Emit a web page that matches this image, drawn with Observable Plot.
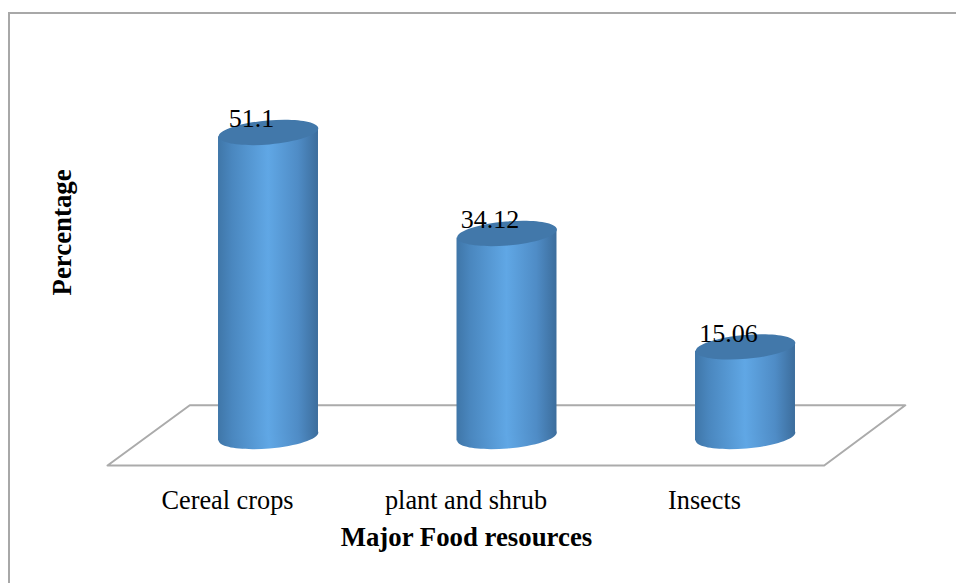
<!DOCTYPE html>
<html>
<head>
<meta charset="utf-8">
<script src="https://cdn.jsdelivr.net/npm/d3@7"></script>
<script src="https://cdn.jsdelivr.net/npm/@observablehq/plot@0.6"></script>
<style>
html,body{margin:0;padding:0;background:#fff;overflow:hidden}
#wrap{position:relative;width:956px;height:583px}
#frame{position:absolute;left:8px;top:12px;right:0;bottom:0;border-top:2px solid #a8a8a8;border-left:2px solid #a8a8a8;pointer-events:none}
svg{display:block}
</style>
</head>
<body>
<div id="wrap"><div id="frame"></div></div>
<script>
const categories = ["Cereal crops", "plant and shrub", "Insects"];
const percentages = [51.1, 34.12, 15.06];
const positions = [0, 1, 2];
const valueLabels = ["51.1", "34.12", "15.06"];
const floorX = [-0.675, 2.33, 2.67, -0.33, -0.675];
const floorY = [-4.87, -4.87, 5.25, 5.25, -4.87];
const xDomain = [-1.1237, 2.8847];
const yDomain = [-24.71, 73.28];
const halfWidth = 0.2096;
const tilt = 0.74;
const xTitle = "Major Food resources";
const yTitle = "Percentage";

const table = categories.map((c, i) => ({
  category: c, value: percentages[i], pos: positions[i], label: valueLabels[i]
}));
const floor = floorX.map((x, i) => ({x, y: floorY[i]}));
const body = table.flatMap(d => [
  {category: d.category, x: d.pos - halfWidth, y1: -tilt, y2: d.value - tilt},
  {category: d.category, x: d.pos + halfWidth, y1: tilt, y2: d.value + tilt}
]);

const ellipse = {
  draw(ctx, size) {
    const rx = Math.sqrt(size / Math.PI), ry = rx * 0.24, k = 0.5523;
    ctx.moveTo(-rx, 0);
    ctx.bezierCurveTo(-rx, -ry * k, -rx * k, -ry, 0, -ry);
    ctx.bezierCurveTo(rx * k, -ry, rx, -ry * k, rx, 0);
    ctx.bezierCurveTo(rx, ry * k, rx * k, ry, 0, ry);
    ctx.bezierCurveTo(-rx * k, ry, -rx, ry * k, -rx, 0);
    ctx.closePath();
  }
};

const gradient = () => {
  const s = d3.create("svg:defs");
  const g = s.append("linearGradient").attr("id", "cyl").attr("x1", 0).attr("x2", 1).attr("y1", 0).attr("y2", 0);
  [[0, "#3f76a8"], [0.14, "#4a87bf"], [0.5, "#60a7e5"], [0.8, "#4f8cc6"], [1, "#3c6d9c"]]
    .forEach(([o, c]) => g.append("stop").attr("offset", o).attr("stop-color", c));
  return s.node();
};

const serif = "'Liberation Serif','Times New Roman',serif";

const chart = Plot.plot({
  width: 956,
  height: 583,
  margin: 0,
  style: {background: "transparent", fontFamily: serif, color: "#000"},
  x: {type: "linear", domain: xDomain, range: [0, 956], axis: null},
  y: {type: "linear", domain: yDomain, range: [583, 0], axis: null},
  marks: [
    gradient,
    Plot.line(floor, {x: "x", y: "y", stroke: "#ababab", strokeWidth: 2}),
    Plot.dot(table, {x: "pos", y: 0, r: 50, symbol: ellipse, rotate: -5, fill: "url(#cyl)", stroke: "none"}),
    Plot.areaY(body, {x: "x", y1: "y1", y2: "y2", z: "category", fill: "url(#cyl)"}),
    Plot.dot(table, {x: "pos", y: "value", r: 50, symbol: ellipse, rotate: -5, fill: "#4278aa", stroke: "none"}),
    Plot.text(table, {x: "pos", y: "value", text: "label", dx: -17, dy: -13.5, fontSize: 26, fill: "#000"}),
    Plot.text(table, {x: "pos", y: -10.7, text: "category", dx: -41, fontSize: 26.3, fill: "#000"}),
    Plot.text([xTitle], {x: 0.83, y: -17, text: d => d, fontSize: 26.8, fontWeight: "bold", fill: "#000"}),
    Plot.text([yTitle], {x: -0.864, y: 34.3, text: d => d, rotate: -90, fontSize: 26.8, fontWeight: "bold", fill: "#000"})
  ]
});
document.getElementById("wrap").prepend(chart);
</script>
</body>
</html>
